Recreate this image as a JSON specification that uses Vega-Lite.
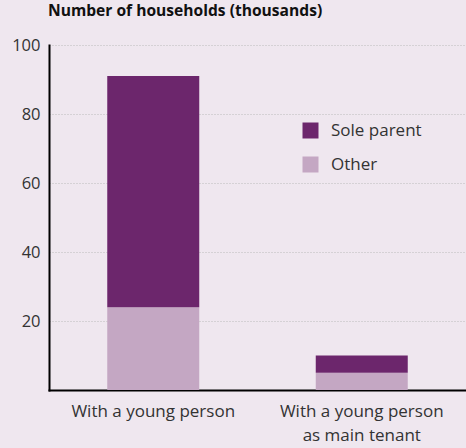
{
  "$schema": "https://vega.github.io/schema/vega-lite/v6.json",
  "width": 417,
  "height": 345,
  "autosize": {"type": "none"},
  "padding": {"left": 49, "top": 45, "right": 0, "bottom": 58},
  "background": "#efe7ef",
  "title": {
    "text": "Number of households (thousands)",
    "anchor": "start",
    "frame": "group",
    "font": "Open Sans",
    "fontSize": 15.6,
    "fontWeight": "bold",
    "color": "#111111",
    "offset": 17,
    "dx": -1
  },
  "data": {
    "values": [
      {"group": "With a young person", "type": "Other", "value": 24, "rank": 0},
      {"group": "With a young person", "type": "Sole parent", "value": 67, "rank": 1},
      {"group": "With a young person as main tenant", "type": "Other", "value": 5, "rank": 0},
      {"group": "With a young person as main tenant", "type": "Sole parent", "value": 5, "rank": 1}
    ]
  },
  "mark": {"type": "bar", "width": 92},
  "encoding": {
    "x": {
      "field": "group",
      "type": "nominal",
      "sort": null,
      "title": null,
      "axis": {
        "labelAngle": 0,
        "domainColor": "#000000",
        "domainWidth": 2,
        "ticks": false,
        "labelFont": "Open Sans",
        "labelFontSize": 17,
        "labelColor": "#333333",
        "labelPadding": 13,
        "labelLineHeight": 24,
        "labelExpr": "datum.label == 'With a young person as main tenant' ? ['With a young person', 'as main tenant'] : datum.label"
      }
    },
    "y": {
      "field": "value",
      "type": "quantitative",
      "stack": "zero",
      "title": null,
      "scale": {"domain": [0, 100]},
      "axis": {
        "values": [20, 40, 60, 80, 100],
        "domainColor": "#000000",
        "domainWidth": 2,
        "ticks": false,
        "grid": true,
        "gridColor": "#bbbbbb",
        "gridDash": [1, 2],
        "labelFont": "Open Sans",
        "labelFontSize": 16.5,
        "labelColor": "#333333",
        "labelPadding": 9
      }
    },
    "color": {
      "field": "type",
      "type": "nominal",
      "scale": {"domain": ["Sole parent", "Other"], "range": ["#6c266c", "#c4a7c3"]},
      "legend": {
        "title": null,
        "orient": "none",
        "legendX": 253,
        "legendY": 77,
        "padding": 0,
        "symbolType": "square",
        "symbolSize": 256,
        "symbolStrokeWidth": 0,
        "symbolOpacity": 1,
        "labelFont": "Open Sans",
        "labelFontSize": 17,
        "labelColor": "#333333",
        "labelOffset": 12,
        "rowPadding": 16
      }
    },
    "order": {"field": "rank", "type": "quantitative"}
  },
  "config": {
    "view": {"stroke": null},
    "axis": {"domainCap": "square"}
  }
}
